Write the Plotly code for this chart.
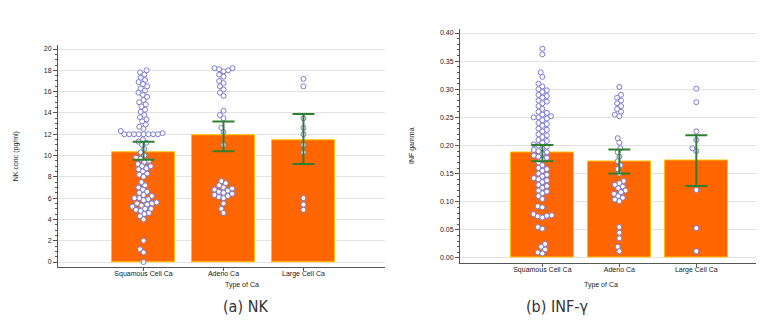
import math
import plotly.graph_objects as go

categories = ["Squamous Cell Ca", "Adeno Ca", "Large Cell Ca"]

# Panel (a) NK
nk_means = [10.3, 11.9, 11.45]
nk_ci_low = [9.6, 10.4, 9.2]
nk_ci_high = [11.3, 13.2, 13.9]
nk_squamous = [18.0, 17.8, 17.6, 17.3, 17.1, 16.9, 16.7, 16.5, 16.3, 16.1, 15.9, 15.7,
               15.5, 15.2, 15.0, 14.8, 14.6, 14.3, 14.1, 13.8, 13.6, 13.4, 13.2, 12.9,
               12.7, 12.5, 12.3, 12.1, 12.0, 12.0, 12.0, 12.0, 12.0, 12.0, 12.0, 12.0,
               11.5, 11.3, 11.2, 11.0, 10.6, 10.3,
               10.0, 9.8, 9.7, 9.5, 9.4, 9.2, 9.0, 9.0, 8.8, 8.7, 8.5, 8.3, 8.2, 8.0,
               7.5, 7.2, 7.0,
               6.8, 6.6, 6.5, 6.3, 6.2, 6.0, 6.0, 5.9, 5.8, 5.6, 5.5, 5.5, 5.4, 5.3,
               5.2, 5.0, 5.0, 4.9, 4.8, 4.6, 4.5, 4.3, 4.0,
               2.0, 1.2, 0.9, 0.0]
nk_adeno = [18.2, 18.2, 18.1, 18.0, 17.9, 17.6, 17.4, 17.0, 16.8, 16.5, 16.2, 15.9, 15.6,
            14.2, 13.8, 13.5, 12.6, 12.2, 11.0,
            7.6, 7.4, 7.2, 7.0, 6.9, 6.8, 6.7, 6.6, 6.5, 6.4, 6.3, 6.2, 6.1, 6.0,
            5.5, 5.0, 4.6]
nk_large = [17.2, 16.5, 13.5, 12.6, 12.0, 11.0, 10.3, 6.0, 5.4, 4.9]

# Panel (b) INF-gamma
inf_means = [0.188, 0.171, 0.173]
inf_ci_low = [0.172, 0.150, 0.128]
inf_ci_high = [0.201, 0.193, 0.218]
inf_squamous = [0.372, 0.362, 0.33, 0.322, 0.31, 0.305, 0.30, 0.298, 0.295, 0.29, 0.288,
                0.285, 0.28, 0.278, 0.275, 0.27, 0.265, 0.26, 0.258, 0.255, 0.252, 0.25,
                0.25, 0.248, 0.245, 0.24, 0.238, 0.235, 0.23, 0.228, 0.225, 0.22, 0.218,
                0.215, 0.21, 0.208, 0.205, 0.202, 0.20, 0.198, 0.195, 0.192, 0.19, 0.188,
                0.185, 0.182, 0.18, 0.178, 0.175, 0.17, 0.165, 0.16, 0.158, 0.155, 0.15,
                0.148, 0.145, 0.142, 0.14, 0.138, 0.135, 0.13, 0.128, 0.125, 0.12, 0.118,
                0.115, 0.11, 0.105, 0.092, 0.09, 0.078, 0.076, 0.075, 0.074, 0.072,
                0.055, 0.052, 0.025, 0.02, 0.015, 0.01, 0.008]
inf_adeno = [0.304, 0.29, 0.285, 0.28, 0.275, 0.27, 0.265, 0.26, 0.255, 0.252,
             0.213, 0.205, 0.195, 0.188, 0.18, 0.172, 0.165, 0.158, 0.15,
             0.137, 0.133, 0.13, 0.127, 0.124, 0.12, 0.117, 0.114, 0.11, 0.107, 0.104, 0.101,
             0.055, 0.045, 0.035, 0.02, 0.012]
inf_large = [0.301, 0.277, 0.225, 0.21, 0.195, 0.19, 0.121, 0.053, 0.012]

BAR_COLOR = "#FF6600"
BAR_EDGE = "#FFC000"
PT_EDGE = "#7B7BD6"
ERR_COLOR = "#2F7F2F"
GRID = "#E3E3E3"
AXIS = "#555555"
FONT = "Liberation Sans, Arial, sans-serif"
CAP_FONT = "Liberation Sans Narrow, DejaVu Sans Condensed, Roboto, sans-serif"


def swarm(values, py, px, d=4.8):
    """Beeswarm offsets (x data units) computed from the values."""
    placed = []
    offs = [0.0] * len(values)
    order = sorted(range(len(values)), key=lambda i: values[i])
    for i in order:
        y = values[i] * py
        cands = [0.0]
        for (yy, xx) in placed:
            dy = abs(y - yy)
            if dy < d:
                dx = math.sqrt(d * d - dy * dy)
                cands += [xx + dx, xx - dx]
        cands.sort(key=lambda c: (abs(c), c))
        for c in cands:
            if all((c - xx) ** 2 + (y - yy) ** 2 >= d * d - 1e-6 for (yy, xx) in placed):
                placed.append((y, c))
                offs[i] = c / px
                break
    return offs


fig = go.Figure()

W, H = 764, 329
panels = [
    dict(xa="x", ya="y", means=nk_means, lo=nk_ci_low, hi=nk_ci_high,
         groups=[nk_squamous, nk_adeno, nk_large], py=10.65, px=80.0, bw=0.79),
    dict(xa="x2", ya="y2", means=inf_means, lo=inf_ci_low, hi=inf_ci_high,
         groups=[inf_squamous, inf_adeno, inf_large], py=562.5, px=77.0, bw=0.82),
]

for p in panels:
    fig.add_trace(go.Bar(x=[0, 1, 2], y=p["means"], width=p["bw"], xaxis=p["xa"], yaxis=p["ya"],
                         marker=dict(color=BAR_COLOR, line=dict(color=BAR_EDGE, width=1)),
                         showlegend=False, hoverinfo="skip"))
    xs, ys = [], []
    for gi, vals in enumerate(p["groups"]):
        offs = swarm(vals, p["py"], p["px"])
        xs += [gi + o for o in offs]
        ys += vals
    fig.add_trace(go.Scatter(x=xs, y=ys, mode="markers", xaxis=p["xa"], yaxis=p["ya"],
                             marker=dict(size=5, color="white", line=dict(color=PT_EDGE, width=1)),
                             showlegend=False))
    fig.add_trace(go.Scatter(x=[0, 1, 2], y=p["means"], mode="markers", xaxis=p["xa"], yaxis=p["ya"],
                             marker=dict(size=1, color="rgba(0,0,0,0)"),
                             error_y=dict(type="data", symmetric=False,
                                          array=[h - m for h, m in zip(p["hi"], p["means"])],
                                          arrayminus=[m - l for l, m in zip(p["lo"], p["means"])],
                                          color=ERR_COLOR, thickness=2, width=11),
                             showlegend=False))

small = dict(family=FONT, size=7, color="#222")
common_x = dict(tickmode="array", tickvals=[0, 1, 2], ticktext=categories,
                showline=True, linecolor=AXIS, linewidth=1, ticks="outside", ticklen=3,
                tickcolor=AXIS, showgrid=False, zeroline=False, tickfont=small,
                ticklabelstandoff=-3)
common_y = dict(showline=True, linecolor=AXIS, linewidth=1, ticks="outside", ticklen=4,
                tickcolor=AXIS, showgrid=True, gridcolor=GRID, gridwidth=1, zeroline=False,
                tickfont=small)

fig.update_layout(
    width=W, height=H, margin=dict(l=0, r=0, t=0, b=0),
    paper_bgcolor="white", plot_bgcolor="white", bargap=0,
    xaxis=dict(common_x, domain=[50 / W, 377 / W], range=[-1.07, 3.02], anchor="y"),
    xaxis2=dict(common_x, domain=[452 / W, 763 / W], range=[-1.07, 2.97], anchor="y2"),
    yaxis=dict(common_y, domain=[1 - 259 / H, 1 - 37.3 / H], range=[-0.47, 20.35], anchor="x",
               tickmode="linear", tick0=0, dtick=2,
               minor=dict(ticks="outside", ticklen=2, dtick=0.5, tickcolor=AXIS, showgrid=False),
               title=dict(text="NK conc (pg/ml)", font=small, standoff=24)),
    yaxis2=dict(common_y, domain=[1 - 255 / H, 1 - 20.5 / H], range=[-0.0089, 0.408], anchor="x2",
                tickmode="linear", tick0=0, dtick=0.05, tickformat=".2f",
                minor=dict(ticks="outside", ticklen=2, dtick=0.01, tickcolor=AXIS, showgrid=False),
                title=dict(text="INF gamma", font=small, standoff=24)),
    annotations=[
        dict(text="Type of Ca", x=215 / W, y=1 - 283 / H, xref="paper", yref="paper",
             showarrow=False, font=small),
        dict(text="Type of Ca", x=612 / W, y=1 - 283 / H, xref="paper", yref="paper",
             showarrow=False, font=small),
        dict(text="(a) NK", x=213 / W, y=1 - 310 / H, xref="paper", yref="paper",
             showarrow=False, font=dict(family=CAP_FONT, size=16, color="#333")),
        dict(text="(b) INF-γ", x=582 / W, y=1 - 310 / H, xref="paper", yref="paper",
             showarrow=False, font=dict(family=CAP_FONT, size=16, color="#333")),
    ],
)

fig.write_html("out.html")
